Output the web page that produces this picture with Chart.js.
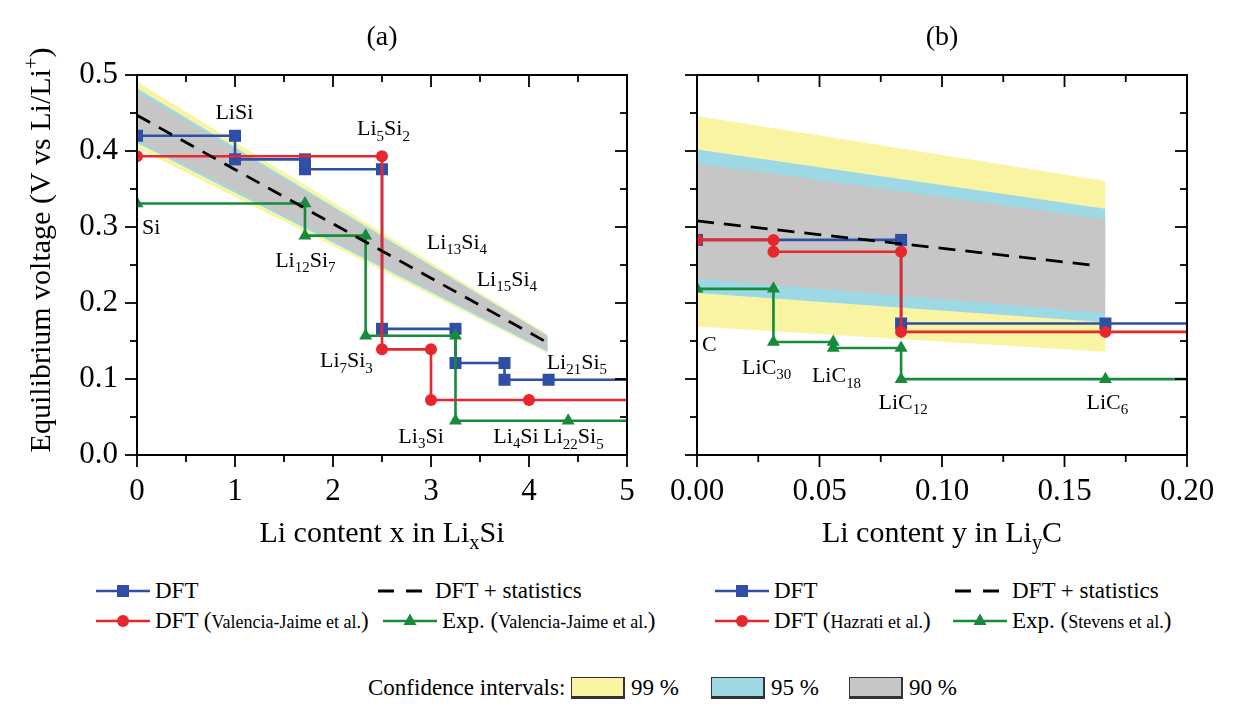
<!DOCTYPE html>
<html><head><meta charset="utf-8">
<script src="https://cdn.jsdelivr.net/npm/chart.js@4.4.1/dist/chart.umd.min.js"></script>
<style>
html,body{margin:0;padding:0;background:#fff;}
#wrap{position:relative;width:1239px;height:719px;overflow:hidden;font-family:"Liberation Serif","Times New Roman",serif;color:#000;}
canvas{position:absolute;top:0;}
.lg{position:absolute;white-space:nowrap;font-size:23px;height:28px;line-height:28px;display:flex;align-items:center;}
.sm{font-size:18px}
.box{display:inline-block;width:54px;height:22px;border:1.5px solid #333;border-bottom-width:3px;border-right-width:2px;box-sizing:border-box;margin-right:6px;}
</style></head>
<body><div id="wrap">
<canvas id="ca" width="665" height="560" style="left:0"></canvas>
<canvas id="cb" width="574" height="560" style="left:665px"></canvas>
<div id="legends"></div>
</div>
<script>
// ---------- Panel (a): Li_xSi ----------
const siDftX = [0, 1, 1, 1.714, 1.714, 2.5, 2.5, 3.25, 3.25, 3.75, 3.75, 4.2, 5];
const siDftV = [0.420, 0.420, 0.389, 0.389, 0.376, 0.376, 0.166, 0.166, 0.121, 0.121, 0.099, 0.099, 0.099];
const siVjX = [0, 2.5, 2.5, 3, 3, 4, 5];
const siVjV = [0.393, 0.393, 0.139, 0.139, 0.0724, 0.0724, 0.0724];
const siExpX = [0, 1.714, 1.714, 2.333, 2.333, 3.25, 3.25, 4.4, 5];
const siExpV = [0.331, 0.331, 0.2886, 0.2886, 0.157, 0.157, 0.0451, 0.0451, 0.0451];
const siStatX = [0, 4.2];
const siStatV = [0.447, 0.147];
const siBandX = [0, 4.19];
const siBand99Hi = [0.491, 0.159];
const siBand99Lo = [0.404, 0.134];
const siBand95Hi = [0.4825, 0.157];
const siBand95Lo = [0.411, 0.136];
const siBand90Hi = [0.478, 0.156];
const siBand90Lo = [0.4145, 0.138];
const siLabelText = ["LiSi", "Li_{5}Si_{2}", "Si", "Li_{12}Si_{7}", "Li_{13}Si_{4}", "Li_{15}Si_{4}", "Li_{7}Si_{3}", "Li_{21}Si_{5}", "Li_{3}Si", "Li_{4}Si", "Li_{22}Si_{5}"];
const siLabelX = [0.80, 2.245, 0.05, 1.41, 2.956, 3.466, 1.867, 4.18, 2.667, 3.636, 4.146];
const siLabelV = [0.452, 0.430, 0.300, 0.257, 0.281, 0.2325, 0.125, 0.123, 0.026, 0.026, 0.025];
const siXTicks = [0, 5, 1, 0.5];      // min, max, major, minor

// ---------- Panel (b): Li_yC ----------
const cDftX = [0, 0.0833, 0.0833, 0.1667, 0.2];
const cDftV = [0.283, 0.283, 0.173, 0.173, 0.173];
const cHzX = [0, 0.0312, 0.0312, 0.0833, 0.0833, 0.1667, 0.2];
const cHzV = [0.283, 0.283, 0.2674, 0.2674, 0.162, 0.162, 0.162];
const cExpX = [0, 0.0312, 0.0312, 0.0556, 0.0556, 0.0833, 0.0833, 0.1667, 0.2];
const cExpV = [0.2186, 0.2186, 0.1487, 0.1487, 0.1407, 0.1407, 0.0998, 0.0998, 0.0998];
const cStatX = [0, 0.161];
const cStatV = [0.308, 0.25];
const cBandX = [0, 0.1667];
const cBand99Hi = [0.446, 0.3606];
const cBand99Lo = [0.169, 0.136];
const cBand95Hi = [0.402, 0.324];
const cBand95Lo = [0.213, 0.1746];
const cBand90Hi = [0.384, 0.310];
const cBand90Lo = [0.232, 0.187];
const cLabelText = ["C", "LiC_{30}", "LiC_{18}", "LiC_{12}", "LiC_{6}"];
const cLabelX = [0.002, 0.0184, 0.0469, 0.0741, 0.159];
const cLabelV = [0.147, 0.116, 0.105, 0.070, 0.070];
const cXTicks = [0, 0.2, 0.05, 0.025];

const yTicks = [0, 0.5, 0.1, 0.05];

// ---------- styles ----------
const BLUE = '#2f4fa6', RED = '#e8262b', GREEN = '#188a3b';
const YEL = '#f8f4a2', CYAN = '#9dd8e5', GRAY = '#c6c6c6';
const FONT = '"Liberation Serif","Times New Roman",serif';
Chart.defaults.font.family = FONT;
Chart.defaults.color = '#000';

function pts(xs, ys){ return xs.map((x,i)=>({x:x, y:ys[i]})); }
function radii(n, r){ const a = new Array(n).fill(r); a[n-1] = 0; return a; }

function stepSet(label, xs, ys, color, style, r, order){
  return {label, data: pts(xs, ys), borderColor: color, backgroundColor: color,
    borderWidth: 2.6, pointStyle: style, pointRadius: radii(xs.length, r),
    pointBorderWidth: 0, pointBackgroundColor: color, fill: false, order, tension: 0, clip: 0};
}
function bandSets(xs, hi, lo, color, order){
  return [
    {label:'hi', data: pts(xs, hi), borderWidth: 0, pointRadius: 0, fill: '+1', backgroundColor: color, borderColor: color, order},
    {label:'lo', data: pts(xs, lo), borderWidth: 0, pointRadius: 0, fill: false, backgroundColor: color, borderColor: color, order}
  ];
}

function richParts(s){
  const parts = []; const re = /([_^])\{([^}]*)\}|([^_^]+)/g; let m;
  while ((m = re.exec(s))) { if (m[3]) parts.push({t:m[3], k:0}); else parts.push({t:m[2], k: m[1]==='_'?1:2}); }
  return parts;
}
function drawRich(ctx, s, x, y, size, align){
  const parts = richParts(s); const small = size*0.68;
  let w = 0;
  parts.forEach(p => { ctx.font = (p.k?small:size) + 'px ' + FONT; p.w = ctx.measureText(p.t).width; w += p.w; });
  let cx = align === 'center' ? x - w/2 : x;
  ctx.textAlign = 'left'; ctx.textBaseline = 'alphabetic';
  parts.forEach(p => {
    ctx.font = (p.k?small:size) + 'px ' + FONT;
    const dy = p.k===1 ? size*0.24 : (p.k===2 ? -size*0.40 : 0);
    ctx.fillText(p.t, cx, y + dy); cx += p.w;
  });
}

const decoPlugin = {
  id: 'deco',
  afterDraw(chart, args, o){
    const {ctx, chartArea: a, scales: {x, y}} = chart;
    ctx.save();
    ctx.strokeStyle = '#000'; ctx.fillStyle = '#000';
    ctx.lineWidth = 2;
    ctx.strokeRect(a.left, a.top, a.right - a.left, a.bottom - a.top);
    ctx.lineWidth = 1.8;
    const MAJ = 12, MIN = 7;
    function seg(x1,y1,x2,y2){ ctx.beginPath(); ctx.moveTo(x1,y1); ctx.lineTo(x2,y2); ctx.stroke(); }
    const [xmin, xmax, xmaj, xmin2] = o.xt;
    let n = Math.round((xmax - xmin)/xmin2);
    for (let i = 0; i <= n; i++) {
      const v = xmin + i*xmin2; const isMaj = (i % Math.round(xmaj/xmin2)) === 0;
      const L = isMaj ? MAJ : MIN; const px = x.getPixelForValue(v);
      seg(px, a.bottom, px, a.bottom + L);
      seg(px, a.top, px, a.top + L);
    }
    const [ymin, ymax, ymaj, ymin2] = o.yt;
    n = Math.round((ymax - ymin)/ymin2);
    for (let i = 0; i <= n; i++) {
      const v = ymin + i*ymin2; const isMaj = (i % Math.round(ymaj/ymin2)) === 0;
      const L = isMaj ? MAJ : MIN; const py = y.getPixelForValue(v);
      seg(a.left - L, py, a.left, py);
      seg(a.right - L, py, a.right, py);
    }
    // panel title
    ctx.font = '28px ' + FONT; ctx.textAlign = 'center'; ctx.textBaseline = 'middle';
    ctx.fillText(o.title, (a.left + a.right)/2, 38);
    // x-axis title
    drawRich(ctx, o.xTitle, (a.left + a.right)/2, 542, 30, 'center');
    // y-axis title
    if (o.yTitle) {
      ctx.save(); ctx.translate(50, 250); ctx.rotate(-Math.PI/2);
      drawRich(ctx, o.yTitle, 0, 0, 30, 'center');
      ctx.restore();
    }
    // phase labels
    o.labels.t.forEach((t, i) => {
      const px = x.getPixelForValue(o.labels.x[i]);
      const py = y.getPixelForValue(o.labels.v[i]);
      drawRich(ctx, t, px, py + 22*0.33, 22, 'left');
    });
    ctx.restore();
  }
};

function makeChart(id, sets, xt, yWidth, rightPad, deco, showY){
  return new Chart(document.getElementById(id), {
    type: 'line',
    data: { datasets: sets },
    options: {
      responsive: false, animation: false, devicePixelRatio: 1, events: [],
      layout: { padding: { top: 75, right: rightPad, bottom: 0, left: 0 } },
      plugins: { legend: {display: false}, tooltip: {enabled: false}, deco: deco },
      scales: {
        x: { type: 'linear', min: xt[0], max: xt[1],
             grid: {display: true, drawOnChartArea: false, drawTicks: true, tickLength: 18, color: 'rgba(0,0,0,0)'},
             border: {display: false},
             ticks: { stepSize: xt[2], font: {size: 31}, color: '#000', padding: 0,
                      callback: v => xt[2] < 1 ? v.toFixed(2) : String(Math.round(v)) },
             afterFit: s => { s.height = 105; } },
        y: { type: 'linear', min: yTicks[0], max: yTicks[1],
             grid: {display: false, drawTicks: false}, border: {display: false},
             ticks: { display: showY, stepSize: yTicks[2], font: {size: 31}, color: '#000', padding: 19,
                      callback: v => v.toFixed(1) },
             afterFit: s => { s.width = yWidth; } }
      }
    },
    plugins: [decoPlugin]
  });
}

const setsA = [
  stepSet('DFT + statistics', siStatX, siStatV, '#000', 'line', 0, 0),
  stepSet('DFT (Valencia-Jaime et al.)', siVjX, siVjV, RED, 'circle', 6, 1),
  stepSet('Exp. (Valencia-Jaime et al.)', siExpX, siExpV, GREEN, 'triangle', 7.5, 2),
  stepSet('DFT', siDftX, siDftV, BLUE, 'rect', 8.5, 3),
  ...bandSets(siBandX, siBand99Hi, siBand99Lo, YEL, 30),
  ...bandSets(siBandX, siBand95Hi, siBand95Lo, CYAN, 20),
  ...bandSets(siBandX, siBand90Hi, siBand90Lo, GRAY, 10)
];
setsA[0].borderDash = [15, 10]; setsA[0].borderWidth = 2.8; setsA[0].pointRadius = 0;

const setsB = [
  stepSet('DFT + statistics', cStatX, cStatV, '#000', 'line', 0, 0),
  stepSet('DFT (Hazrati et al.)', cHzX, cHzV, RED, 'circle', 6, 1),
  stepSet('Exp. (Stevens et al.)', cExpX, cExpV, GREEN, 'triangle', 7.5, 2),
  stepSet('DFT', cDftX, cDftV, BLUE, 'rect', 8.5, 3),
  ...bandSets(cBandX, cBand99Hi, cBand99Lo, YEL, 30),
  ...bandSets(cBandX, cBand95Hi, cBand95Lo, CYAN, 20),
  ...bandSets(cBandX, cBand90Hi, cBand90Lo, GRAY, 10)
];
setsB[0].borderDash = [17, 10]; setsB[0].borderWidth = 2.8; setsB[0].pointRadius = 0;

makeChart('ca', setsA, siXTicks, 137, 38,
  {title: '(a)', xTitle: 'Li content x in Li_{x}Si', yTitle: 'Equilibrium voltage (V vs Li/Li^{+})',
   xt: siXTicks, yt: yTicks, labels: {t: siLabelText, x: siLabelX, v: siLabelV}}, true);
makeChart('cb', setsB, cXTicks, 32, 52,
  {title: '(b)', xTitle: 'Li content y in Li_{y}C', yTitle: null,
   xt: cXTicks, yt: yTicks, labels: {t: cLabelText, x: cLabelX, v: cLabelV}}, false);

// ---------- HTML legends ----------
function icon(kind, color){
  const line = kind === 'dash'
    ? '<line x1="2" y1="11" x2="52" y2="11" stroke="#000" stroke-width="3" stroke-dasharray="16 12"/>'
    : '<line x1="0" y1="11" x2="54" y2="11" stroke="'+color+'" stroke-width="2.6"/>';
  let mk = '';
  if (kind === 'rect') mk = '<rect x="21" y="5" width="12" height="12" fill="'+color+'"/>';
  if (kind === 'circle') mk = '<circle cx="27" cy="11" r="6" fill="'+color+'"/>';
  if (kind === 'tri') mk = '<polygon points="27,3.5 33.5,15 20.5,15" fill="'+color+'"/>';
  return '<svg width="54" height="22" style="margin-right:5px">'+line+mk+'</svg>';
}
const legendItems = [
  [96, 591, 'rect', BLUE, 'DFT'],
  [376, 591, 'dash', '#000', 'DFT + statistics'],
  [96, 621, 'circle', RED, 'DFT (<span class="sm">Valencia-Jaime et al.</span>)'],
  [383, 621, 'tri', GREEN, 'Exp. (<span class="sm">Valencia-Jaime et al.</span>)'],
  [715, 591, 'rect', BLUE, 'DFT'],
  [953, 591, 'dash', '#000', 'DFT + statistics'],
  [715, 621, 'circle', RED, 'DFT (<span class="sm">Hazrati et al.</span>)'],
  [953, 621, 'tri', GREEN, 'Exp. (<span class="sm">Stevens et al.</span>)']
];
let html = '';
legendItems.forEach(([l, cy, k, c, t]) => {
  html += '<div class="lg" style="left:'+l+'px;top:'+(cy-14)+'px">'+icon(k, c)+'<span>'+t+'</span></div>';
});
html += '<div class="lg" style="left:368px;top:674px">Confidence intervals:&nbsp;<span class="box" style="background:'+YEL+'"></span>99 %'
     + '<span style="display:inline-block;width:32px"></span><span class="box" style="background:'+CYAN+'"></span>95 %'
     + '<span style="display:inline-block;width:30px"></span><span class="box" style="background:'+GRAY+'"></span>90 %</div>';
document.getElementById('legends').innerHTML = html;
</script>
</body></html>
